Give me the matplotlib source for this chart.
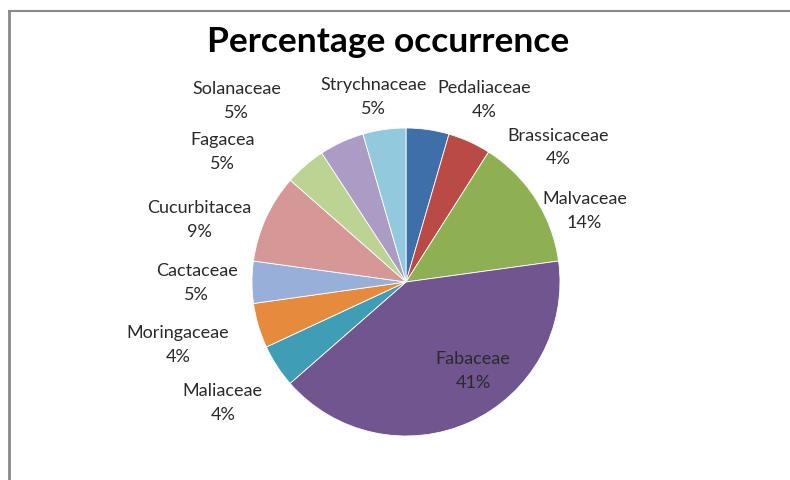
import matplotlib.pyplot as plt

plt.rcParams['font.family'] = ['Lato', 'DejaVu Sans']

# slices clockwise from 12 o'clock
families = ['Pedaliaceae', 'Brassicaceae', 'Malvaceae', 'Fabaceae', 'Maliaceae',
            'Moringaceae', 'Cactaceae', 'Cucurbitacea', 'Fagacea', 'Solanaceae',
            'Strychnaceae']
shares = [4.5, 4.5, 13.8, 40.7, 4.5, 4.7, 4.4, 9.3, 4.3, 4.7, 4.5]
pct_labels = ['4%', '4%', '14%', '41%', '4%', '4%', '5%', '9%', '5%', '5%', '5%']

colors = ['#3f6fa8', '#b94a46', '#8fb052', '#70558f', '#3f9eb6', '#e68b3d',
          '#97afd9', '#d69797', '#bcd394', '#aa9cc4', '#93c9dc']

# label block offsets from pie centre, in pie radii
label_pos = [(0.51, 1.19), (0.99, 0.88), (1.16, 0.47), (0.435, -0.57),
             (-1.19, -0.78), (-1.48, -0.40), (-1.36, 0.0), (-1.34, 0.41),
             (-1.19, 0.85), (-1.10, 1.18), (-0.21, 1.21)]

W, H = 790, 481
fig = plt.figure(figsize=(W / 100, H / 100), dpi=100)
ax = fig.add_axes([0, 0, 1, 1])

cx, cy, R = 406, H - 283, 154
ax.pie(shares, colors=colors, startangle=90, counterclock=False,
       center=(cx, cy), radius=R,
       wedgeprops={'edgecolor': 'white', 'linewidth': 0.6})
ax.set_xlim(0, W)
ax.set_ylim(0, H)
ax.axis('off')

for name, pct, (dx, dy) in zip(families, pct_labels, label_pos):
    ax.text(cx + dx * R, cy + dy * R, name + '\n' + pct, ha='center', va='center',
            fontsize=13, color='#2a2a2a', linespacing=1.6)

ax.text(388, H - 42, 'Percentage occurrence', ha='center', va='center',
        fontsize=25.5, fontweight='bold', color='black')

# frame edges of the cropped chart area
ax.plot([9, W + 5], [H - 12, H - 12], color='#8a8a8a', lw=1.5, clip_on=False)
ax.plot([9, 9], [H - 12, -5], color='#8a8a8a', lw=2, clip_on=False)

fig.savefig('out.png', dpi=100)
